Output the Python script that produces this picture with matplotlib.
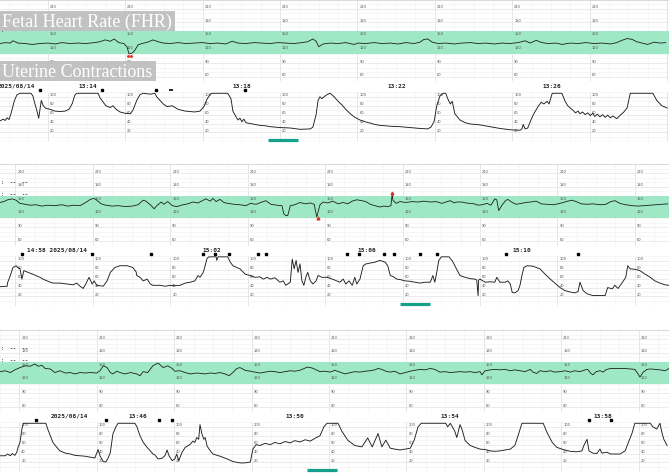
import numpy as np
import matplotlib.pyplot as plt
from matplotlib.patches import Rectangle

W, H = 669, 477
SPAN = 1037  # seconds of trace across one strip

# ---------------- strip 1 (13:11:44 -> ) ----------------
fhr1 = [(0, 133), (8, 135), (16, 134), (20, 139), (28, 134), (39, 133), (50, 131), (62, 133), (74, 134), (85, 132),
        (96, 135), (109, 133), (121, 134), (133, 133), (146, 135), (155, 137), (163, 141), (171, 138), (177, 143), (184, 135),
        (192, 133), (197, 125), (200, 110), (205, 112), (209, 118), (214, 130), (220, 133), (229, 136), (237, 141), (245, 137),
        (253, 134), (264, 133), (276, 135), (288, 133), (301, 134), (313, 135), (326, 133), (338, 134), (350, 132), (360, 138),
        (369, 134), (381, 133), (394, 135), (406, 134), (419, 133), (431, 135), (443, 134), (456, 133), (468, 135), (477, 137),
        (485, 143), (490, 138), (494, 126), (501, 132), (512, 134), (524, 133), (536, 135), (549, 131), (555, 134), (567, 133),
        (580, 135), (592, 133), (605, 134), (617, 132), (629, 135), (642, 133), (651, 136), (657, 142), (663, 143), (670, 136),
        (679, 133), (691, 134), (704, 132), (716, 134), (729, 135), (741, 133), (753, 134), (766, 132), (778, 134), (791, 133),
        (803, 135), (814, 139), (822, 134), (831, 140), (840, 135), (849, 133), (862, 134), (871, 131), (884, 134), (896, 133),
        (908, 135), (921, 133), (933, 134), (946, 132), (956, 135), (964, 140), (972, 144), (980, 142), (987, 137), (995, 134),
        (1004, 131), (1014, 136), (1023, 134), (1032, 135)]
uc1 = [(0, 46), (5, 50), (8, 47), (11, 53), (14, 49), (17, 62), (22, 90), (26, 104), (31, 108), (48, 108),
       (51, 102), (54, 85), (57, 70), (60, 52), (64, 92), (67, 80), (71, 74), (78, 72), (85, 68), (93, 67),
       (101, 68), (107, 72), (112, 85), (116, 104), (119, 108), (152, 108), (155, 98), (160, 88), (164, 80), (171, 76),
       (175, 80), (180, 72), (186, 66), (194, 63), (202, 62), (206, 70), (212, 92), (217, 105), (222, 108), (233, 106),
       (240, 108), (243, 100), (248, 92), (253, 84), (259, 78), (267, 80), (276, 72), (287, 68), (302, 66), (310, 68),
       (316, 78), (321, 95), (326, 106), (329, 108), (353, 108), (358, 96), (361, 68), (366, 55), (369, 48), (372, 52),
       (375, 44), (378, 50), (381, 42), (388, 40), (395, 38), (403, 36), (411, 35), (419, 33), (434, 31), (450, 30),
       (465, 27), (481, 28), (485, 32), (490, 60), (493, 92), (496, 100), (499, 96), (504, 102), (508, 106), (512, 108),
       (518, 100), (524, 90), (530, 82), (536, 72), (543, 62), (550, 54), (558, 48), (566, 44), (574, 41), (581, 38),
       (589, 36), (605, 34), (620, 33), (636, 31), (651, 29), (663, 28), (668, 32), (673, 45), (677, 80), (682, 102),
       (687, 108), (691, 108), (694, 96), (698, 84), (701, 90), (705, 62), (713, 48), (721, 42), (729, 39), (744, 37),
       (760, 33), (775, 29), (791, 26), (806, 25), (809, 28), (811, 38), (814, 28), (818, 30), (825, 55), (829, 66),
       (834, 78), (839, 88), (843, 84), (848, 90), (851, 84), (856, 108), (871, 108), (876, 90), (880, 80), (888, 70),
       (892, 64), (896, 68), (899, 62), (903, 66), (907, 60), (911, 64), (915, 58), (919, 63), (922, 56), (926, 61),
       (930, 55), (934, 60), (938, 54), (942, 59), (946, 53), (950, 57), (956, 51), (961, 58), (967, 66), (972, 75),
       (977, 108), (1012, 108), (1018, 92), (1026, 80), (1034, 75)]

# ---------------- strip 2 (14:56:32 -> ) ----------------
fhr2 = [(0, 145), (6, 147), (12, 151), (19, 153), (25, 150), (31, 143), (39, 141), (47, 139), (56, 140), (65, 137),
        (74, 139), (85, 138), (96, 140), (105, 137), (115, 139), (124, 138), (133, 145), (140, 152), (146, 154), (150, 150),
        (157, 142), (164, 139), (174, 137), (183, 138), (194, 136), (205, 137), (214, 140), (222, 150), (226, 148), (233, 140),
        (239, 131), (243, 138), (250, 146), (254, 141), (260, 147), (267, 138), (274, 136), (284, 140), (291, 142), (299, 146),
        (307, 144), (315, 150), (319, 153), (326, 148), (330, 154), (335, 147), (341, 152), (347, 145), (353, 143), (363, 141),
        (372, 140), (381, 138), (388, 143), (397, 141), (406, 146), (412, 149), (420, 141), (429, 139), (437, 138), (440, 120),
        (443, 116), (446, 116), (450, 138), (457, 140), (465, 145), (473, 142), (481, 144), (487, 141), (491, 113), (496, 140),
        (501, 146), (508, 144), (516, 148), (524, 142), (532, 145), (539, 142), (546, 148), (553, 151), (561, 149), (567, 147),
        (574, 141), (581, 138), (589, 135), (595, 137), (601, 136), (606, 138), (608, 165), (609, 150), (614, 143), (620, 147),
        (629, 145), (639, 147), (648, 146), (657, 148), (667, 146), (676, 147), (685, 143), (691, 146), (698, 149), (704, 144),
        (708, 146), (716, 146), (722, 144), (729, 143), (735, 142), (741, 139), (747, 140), (755, 143), (761, 139), (767, 153),
        (770, 151), (773, 127), (778, 139), (783, 148), (787, 152), (794, 145), (800, 141), (808, 143), (815, 145), (822, 146),
        (831, 148), (839, 142), (848, 141), (857, 140), (865, 142), (873, 145), (880, 148), (887, 150), (893, 147), (901, 142),
        (910, 141), (919, 142), (930, 140), (939, 141), (947, 147), (953, 149), (961, 143), (970, 140), (980, 138), (989, 137),
        (998, 138), (1008, 139), (1017, 140), (1026, 141), (1035, 142)]
uc2 = [(0, 42), (11, 43), (12, 52), (16, 67), (20, 85), (25, 89), (28, 84), (31, 82), (34, 59), (37, 78),
       (42, 75), (47, 72), (51, 70), (57, 66), (62, 63), (68, 58), (73, 55), (78, 52), (82, 50), (93, 50),
       (104, 48), (113, 46), (119, 50), (124, 43), (129, 38), (133, 48), (138, 63), (143, 48), (146, 55), (150, 45),
       (160, 43), (166, 55), (171, 74), (178, 85), (186, 89), (197, 89), (206, 85), (211, 75), (212, 67), (217, 63),
       (222, 55), (228, 59), (233, 48), (237, 45), (248, 45), (256, 43), (264, 45), (271, 44), (279, 45), (287, 50),
       (295, 52), (302, 55), (307, 67), (310, 63), (315, 74), (318, 89), (321, 106), (324, 109), (335, 109), (336, 101),
       (338, 109), (353, 109), (357, 97), (361, 89), (367, 85), (372, 82), (380, 70), (388, 67), (395, 63), (403, 64),
       (408, 59), (414, 63), (419, 59), (426, 62), (434, 52), (439, 55), (443, 45), (450, 52), (453, 104), (456, 82),
       (459, 101), (462, 74), (465, 93), (468, 55), (471, 45), (474, 63), (477, 74), (481, 55), (485, 48), (490, 55),
       (493, 67), (499, 63), (507, 63), (515, 59), (522, 55), (527, 52), (532, 59), (536, 48), (541, 55), (546, 45),
       (550, 63), (553, 48), (558, 59), (563, 89), (567, 93), (574, 95), (581, 97), (589, 101), (597, 97), (601, 89),
       (605, 67), (609, 65), (615, 59), (620, 58), (628, 55), (636, 54), (643, 52), (651, 50), (659, 52), (667, 52),
       (671, 67), (674, 52), (677, 74), (680, 100), (684, 109), (696, 109), (701, 100), (705, 89), (713, 67), (721, 63),
       (729, 60), (736, 59), (739, 57), (741, 22), (742, 57), (744, 59), (752, 52), (760, 53), (767, 52), (770, 63),
       (775, 52), (783, 52), (787, 55), (791, 48), (794, 29), (798, 28), (803, 33), (806, 45), (809, 67), (812, 85),
       (817, 89), (826, 88), (837, 82), (845, 70), (853, 59), (860, 50), (868, 40), (876, 33), (884, 30), (891, 28),
       (896, 31), (899, 52), (904, 33), (910, 26), (919, 22), (930, 22), (938, 22), (942, 40), (949, 37), (953, 45),
       (958, 38), (964, 50), (970, 63), (973, 89), (977, 82), (984, 81), (992, 78), (1000, 70), (1008, 63), (1015, 55),
       (1023, 50), (1031, 46), (1037, 45)]

# ---------------- strip 3 (13:42:26 -> ) ----------------
fhr3 = [(0, 138), (8, 140), (16, 136), (23, 142), (31, 147), (39, 151), (47, 150), (54, 155), (59, 150), (65, 152),
        (70, 145), (78, 144), (85, 136), (93, 140), (101, 135), (109, 136), (116, 133), (124, 136), (132, 135), (140, 136),
        (150, 135), (155, 140), (160, 151), (166, 147), (171, 136), (175, 133), (181, 139), (186, 136), (194, 133), (202, 136),
        (212, 133), (217, 129), (222, 138), (229, 136), (237, 151), (245, 157), (253, 147), (260, 151), (267, 145), (271, 139),
        (279, 140), (287, 136), (295, 133), (305, 135), (318, 133), (326, 135), (333, 134), (341, 136), (349, 133), (355, 129),
        (361, 136), (367, 145), (372, 147), (380, 141), (388, 139), (395, 137), (403, 135), (411, 137), (419, 139), (426, 138),
        (434, 136), (442, 138), (450, 140), (457, 139), (465, 141), (473, 146), (477, 148), (484, 146), (490, 142), (496, 138),
        (504, 139), (512, 137), (519, 141), (527, 137), (535, 133), (543, 136), (550, 138), (558, 137), (566, 139), (574, 140),
        (581, 142), (586, 145), (592, 143), (598, 139), (605, 137), (612, 139), (620, 133), (628, 136), (636, 139), (643, 141),
        (651, 143), (659, 142), (667, 145), (674, 143), (682, 137), (690, 138), (698, 136), (705, 137), (713, 138), (721, 137),
        (729, 138), (736, 136), (744, 138), (747, 131), (752, 140), (760, 142), (767, 143), (775, 142), (783, 143), (791, 140),
        (798, 142), (806, 140), (814, 138), (822, 143), (826, 137), (832, 134), (837, 140), (845, 138), (853, 140), (860, 137),
        (868, 138), (876, 140), (884, 137), (891, 140), (899, 138), (907, 142), (911, 143), (916, 134), (919, 131), (924, 138),
        (930, 140), (935, 137), (939, 142), (946, 145), (953, 145), (961, 145), (969, 145), (977, 144), (984, 143), (989, 133),
        (992, 126), (997, 137), (1003, 143), (1008, 144), (1015, 143), (1023, 142), (1031, 140), (1037, 145)]
uc3 = [(0, 35), (8, 35), (12, 39), (16, 35), (19, 40), (23, 36), (26, 43), (28, 54), (31, 65), (34, 95),
       (36, 108), (71, 108), (74, 95), (78, 80), (82, 65), (88, 54), (93, 46), (101, 41), (109, 39), (116, 36),
       (124, 35), (132, 34), (140, 32), (147, 30), (152, 49), (155, 35), (160, 22), (164, 21), (167, 28), (171, 42),
       (175, 84), (180, 101), (183, 108), (209, 108), (212, 101), (217, 80), (222, 65), (228, 54), (233, 46), (237, 39),
       (240, 37), (245, 28), (251, 29), (256, 36), (259, 48), (262, 35), (267, 24), (271, 28), (274, 39), (277, 24),
       (282, 42), (287, 54), (291, 57), (295, 61), (299, 68), (302, 65), (305, 76), (308, 72), (310, 105), (313, 84),
       (316, 72), (318, 76), (321, 57), (326, 46), (330, 39), (341, 34), (352, 28), (361, 22), (372, 19), (380, 19),
       (388, 21), (392, 50), (397, 60), (403, 58), (411, 63), (419, 60), (426, 65), (434, 62), (442, 67), (450, 64),
       (457, 69), (465, 66), (473, 71), (481, 68), (488, 74), (496, 80), (502, 100), (507, 108), (524, 108), (530, 90),
       (539, 70), (550, 58), (561, 55), (570, 75), (577, 55), (586, 85), (592, 55), (598, 70), (605, 52), (612, 50),
       (620, 48), (628, 50), (636, 52), (642, 70), (648, 100), (653, 108), (691, 108), (694, 100), (698, 108), (705, 90),
       (708, 76), (710, 87), (713, 105), (716, 95), (721, 69), (729, 58), (736, 54), (744, 50), (752, 49), (760, 46),
       (767, 45), (775, 46), (783, 48), (791, 50), (798, 58), (803, 80), (809, 108), (842, 108), (848, 87), (856, 65),
       (863, 54), (873, 49), (884, 45), (894, 44), (902, 46), (905, 58), (910, 72), (913, 46), (919, 41), (925, 40),
       (930, 50), (933, 41), (941, 43), (946, 39), (953, 39), (961, 39), (969, 46), (973, 61), (980, 87), (984, 108),
       (1008, 108), (1012, 100), (1018, 95), (1023, 108), (1026, 87), (1029, 72), (1034, 58)]

# time stamps, event marks, red artefact marks, toco bars, first labelled grid line (s)
stamps1 = [(25, '2025/08/14'), (136, '13:14'), (375, '13:18'), (615, '13:22'), (856, '13:26')]
stamps2 = [(88, '14:58 2025/08/14'), (329, '15:02'), (569, '15:06'), (809, '15:10')]
stamps3 = [(108, '2025/08/14'), (214, '13:46'), (457, '13:50'), (698, '13:54'), (935, '13:58')]
marks1 = [62, 158, 242, 380]
dash1 = [265]
marks2 = [34, 143, 234, 315, 333, 355, 400, 412, 538, 556, 595, 611, 651, 677, 784, 896]
marks3 = [56, 164, 246, 267, 913, 947]
red1 = [(198, 106), (203, 106)]
red2 = [(493, 111), (608, 167)]
bars = [(415, 462), (620, 667), (476, 522)]
first_major = [74, 24, 30]

fhr_labels = [60, 90, 120, 150, 180, 210]
uc_labels = [20, 40, 60, 80, 100]

# strip layout in image pixels (top, bottom)
fhr_box = [(0.6, 82.1), (165.0, 246.5), (331.0, 412.5)]
uc_box = [(92.5, 143.7), (256.5, 307.7), (422.5, 473.7)]

fig = plt.figure(figsize=(6.69, 4.77), dpi=100)
fig.patch.set_facecolor('white')


def add_ax(top, bot):
    ax = fig.add_axes([0, 1 - bot / H, 1, (bot - top) / H])
    ax.set_axis_off()
    ax.set_xlim(0, SPAN)
    return ax


def draw_grid(ax, first, ylo, yhi, step, big):
    minors = np.arange(first % 30, SPAN, 30)
    majors = np.arange(first % 120, SPAN, 120)
    ax.vlines(minors, ylo, yhi, color='#f1f1f1', lw=0.45, zorder=1)
    ax.vlines(majors, ylo, yhi, color='#dedede', lw=0.5, zorder=1)
    hl = np.arange(ylo + step, yhi, step)
    ax.hlines(hl, 0, SPAN, color='#f1f1f1', lw=0.45, zorder=1)
    ax.hlines([v for v in hl if v % big == 0], 0, SPAN, color='#e6e6e6', lw=0.45, zorder=1)
    return majors


strips = [(fhr1, uc1, stamps1, marks1), (fhr2, uc2, stamps2, marks2), (fhr3, uc3, stamps3, marks3)]

for k, (fhr, uc, stamps, marks) in enumerate(strips):
    # ---- FHR ----
    ax = add_ax(*fhr_box[k])
    ax.set_ylim(50, 230)
    majors = draw_grid(ax, first_major[k], 50, 230, 10, 30)
    ax.axhspan(110, 160, color='#9fe8c6', lw=0, zorder=1.5)
    ax.axhline(229.5, color='#d8d8d8', lw=0.7, zorder=1)
    for t in majors:
        if t > SPAN - 15:
            continue
        for v in fhr_labels:
            ax.text(t + 3, v + 1, str(v), fontsize=2.6, color='#555555',
                    ha='left', va='bottom', zorder=3)
    t, v = zip(*fhr)
    ax.plot(t, v, color='#1e1e1e', lw=0.6, zorder=4)
    for yy in (192, 164):
        ax.text(2, yy, ':  --  --', fontsize=3.6, color='#333333', fontweight='bold',
                family='DejaVu Sans Mono', va='center', ha='left', zorder=5)

    # ---- UC ----
    ax2 = add_ax(*uc_box[k])
    ax2.set_ylim(-3, 112)
    majors = draw_grid(ax2, first_major[k], 0, 112, 10, 20)
    for t in majors:
        if t > SPAN - 15:
            continue
        for v in uc_labels:
            ax2.text(t + 3, v + 1, str(v), fontsize=2.6, color='#555555',
                     ha='left', va='bottom', zorder=3)
    t, v = zip(*uc)
    ax2.plot(t, v, color='#1e1e1e', lw=0.65, zorder=4)
    tx = ax2.get_xaxis_transform()
    ax2.plot(marks, [1.03] * len(marks), 's', ms=2.0, color='black',
             transform=tx, clip_on=False, zorder=5)
    for ts, lab in stamps:
        ax2.text(ts, 1.12, lab, transform=tx, ha='center', va='center',
                 fontsize=4.4, fontweight='bold', family='DejaVu Sans Mono',
                 color='#222222', clip_on=False)
    b0, b1 = bars[k]
    ax2.plot([b0, b1], [3, 3], color='#14a08c', lw=2.3, solid_capstyle='butt',
             clip_on=False, zorder=5)

    if k == 0:
        ax2.plot(dash1, [1.03], '_', ms=3, mew=1.2, color='black', transform=tx, clip_on=False)
        rt, rv = zip(*red1)
        ax.plot(rt, rv, '.', ms=2.2, color='#e0302a', zorder=6)
    if k == 1:
        rt, rv = zip(*red2)
        ax.plot(rt, rv, '^', ms=2.0, color='#e0302a', zorder=6)

# overlay titles
for (x0, y0, w, h, txt) in [(0, 11.7, 175, 20, 'Fetal Heart Rate (FHR)'),
                            (0, 61.7, 156, 20, 'Uterine Contractions')]:
    fig.patches.append(Rectangle((x0 / W, 1 - (y0 + h) / H), w / W, h / H,
                                 transform=fig.transFigure, facecolor='#bdbdbd',
                                 edgecolor='none', alpha=0.92, zorder=8))
    fig.text(2 / W, 1 - (y0 + h / 2 + 0.5) / H, txt, family='Liberation Serif',
             fontsize=13, color='white', va='center', ha='left', zorder=9)

fig.savefig('out.png', dpi=100)
